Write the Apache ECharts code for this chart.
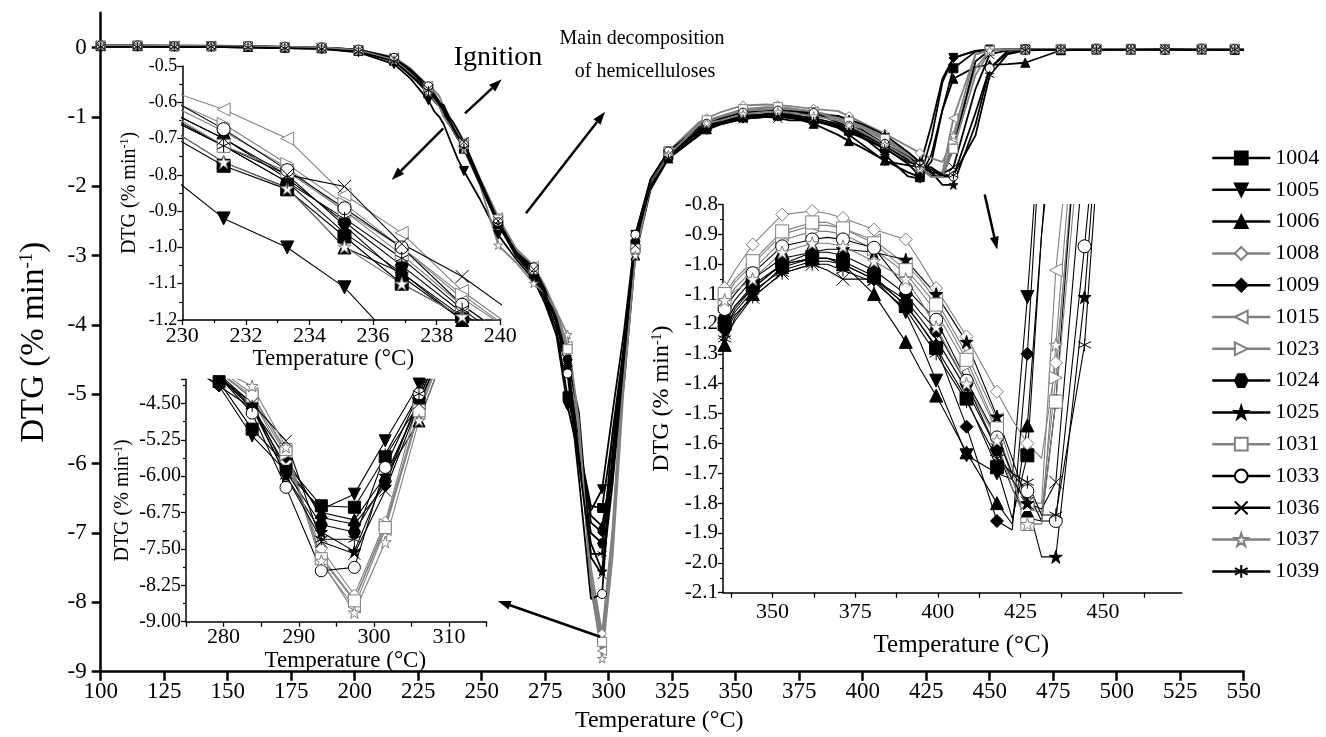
<!DOCTYPE html>
<html><head><meta charset="utf-8">
<script src="https://cdn.jsdelivr.net/npm/echarts@6.0.0/dist/echarts.min.js"></script>
<style>html,body{margin:0;padding:0;background:#fff}#c{width:1326px;height:737px}</style>
</head><body><div id="c"></div>
<script>
// ---------------- DATA ----------------
const SAMPLE_NAMES = ['1004','1005','1006','1008','1009','1015','1023','1024','1025','1031','1033','1036','1037','1039'];

// temperature grid (°C) shared by all samples
const TEMPS = [100,114.5,129,143.5,158,172.5,187,201.5,215.5,222,
  229,231.3,233.3,235.1,236.9,238.8,240.7,
  243,249.5,256.5,263.5,270.5,275,279.4,283.8,288.3,293,297.4,301.5,306,310.5,316.5,323.5,
  335.5,338.6,344,352.9,362,366.6,371.3,380.7,390.3,394.6,399.5,408.7,417.9,422.5,427.1,431.4,435.7,444.4,450,457,464,
  478,492,505.6,519,533.5,546.5,550];

// temperatures carrying a marker in each panel
const MARKS_MAIN = [100,114.5,129,143.5,158,172.5,187,201.5,215.5,229,243,256.5,270.5,283.8,297.4,310.5,323.5,
  338.6,352.9,366.6,380.7,394.6,408.7,422.5,435.7,450,464,478,492,505.6,519,533.5,546.5];
const MARKS_INSET1 = [231.3,233.3,235.1,236.9,238.8];
const MARKS_INSET2 = [279.4,283.8,288.3,293,297.4,301.5,306];
const MARKS_INSET3 = [335.5,344,352.9,362,371.3,380.7,390.3,399.5,408.7,417.9,427.1,435.7,444.4];

// DTG values (% min-1) per sample, one per TEMPS entry
const DTG_1004 = [0.02,0.02,0.02,0.02,0.01,0.00,-0.01,-0.05,-0.19,-0.40,
  -0.66,-0.775,-0.84,-0.97,-1.10,-1.19,-1.30,
  -1.46,-1.98,-2.55,-2.98,-3.25,-3.6,-4.05,-5.03,-5.75,-6.61,-6.64,-5.6,-4.5,-2.9,-2.0,-1.55,
  -1.20,-1.14,-1.07,-1.00,-0.98,-0.98,-0.99,-1.04,-1.14,-1.20,-1.28,-1.45,-1.68,-1.85,-1.64,-0.9,-0.3,-0.06,-0.04,-0.03,-0.03,
  -0.03,-0.02,-0.03,-0.03,-0.02,-0.03,-0.03];
const DTG_1005 = [0.01,0.01,0.01,0.01,0.00,-0.01,-0.02,-0.07,-0.24,-0.45,
  -0.76,-0.92,-1.00,-1.11,-1.28,-1.45,-1.62,
  -1.78,-2.2,-2.7,-3.05,-3.35,-3.7,-4.14,-5.17,-5.9,-6.68,-6.37,-5.27,-4.1,-2.7,-1.9,-1.5,
  -1.22,-1.16,-1.09,-1.02,-0.99,-0.99,-1.00,-1.05,-1.16,-1.26,-1.39,-1.64,-1.70,-1.72,-1.11,-0.45,-0.15,-0.05,-0.03,-0.03,-0.03,
  -0.03,-0.03,-0.02,-0.03,-0.03,-0.02,-0.02];
const DTG_1006 = [0.02,0.02,0.02,0.02,0.01,0.00,-0.01,-0.05,-0.18,-0.37,
  -0.64,-0.765,-0.835,-1.00,-1.07,-1.20,-1.32,
  -1.45,-1.95,-2.5,-2.95,-3.25,-3.55,-3.95,-4.6,-5.8,-6.75,-6.9,-6.0,-4.86,-3.0,-2.05,-1.6,
  -1.27,-1.18,-1.10,-1.01,-0.98,-0.98,-1.00,-1.10,-1.26,-1.35,-1.44,-1.63,-1.80,-1.87,-1.54,-0.9,-0.45,-0.28,-0.25,-0.24,-0.22,
  -0.04,-0.03,-0.03,-0.02,-0.03,-0.03,-0.03];
const DTG_1008 = [0.03,0.03,0.03,0.02,0.02,0.01,0.00,-0.03,-0.15,-0.32,
  -0.58,-0.68,-0.78,-0.90,-1.00,-1.14,-1.25,
  -1.38,-1.9,-2.45,-2.9,-3.15,-3.45,-3.85,-4.4,-5.7,-7.5,-8.45,-6.95,-4.4,-2.8,-1.95,-1.5,
  -1.08,-1.02,-0.934,-0.834,-0.822,-0.83,-0.845,-0.884,-0.917,-0.99,-1.08,-1.242,-1.427,-1.52,-1.60,-1.65,-1.33,-0.3,-0.05,-0.03,-0.03,
  -0.02,-0.02,-0.03,-0.02,-0.02,-0.03,-0.03];
const DTG_1009 = [0.02,0.02,0.02,0.01,0.01,0.00,-0.01,-0.05,-0.19,-0.38,
  -0.62,-0.72,-0.82,-0.96,-1.07,-1.19,-1.31,
  -1.45,-1.98,-2.55,-3.0,-3.3,-3.65,-4.14,-4.6,-5.61,-6.85,-6.99,-6.2,-4.38,-2.85,-2.0,-1.55,
  -1.22,-1.15,-1.08,-1.00,-0.98,-0.98,-1.00,-1.05,-1.135,-1.2,-1.275,-1.544,-1.86,-1.89,-1.3,-0.5,-0.15,-0.05,-0.03,-0.03,-0.03,
  -0.03,-0.03,-0.02,-0.03,-0.03,-0.03,-0.03];
const DTG_1015 = [0.03,0.03,0.03,0.03,0.02,0.01,0.00,-0.03,-0.14,-0.30,
  -0.55,-0.62,-0.70,-0.855,-0.96,-1.12,-1.24,
  -1.36,-1.9,-2.45,-2.9,-3.15,-3.45,-3.8,-4.3,-5.5,-7.8,-8.7,-7.1,-4.7,-2.9,-1.95,-1.5,
  -1.12,-1.06,-1.00,-0.90,-0.87,-0.87,-0.88,-0.92,-1.00,-1.05,-1.12,-1.30,-1.52,-1.68,-1.80,-1.80,-1.02,-0.1,-0.03,-0.03,-0.03,
  -0.02,-0.02,-0.02,-0.03,-0.02,-0.02,-0.02];
const DTG_1023 = [0.03,0.03,0.02,0.02,0.02,0.01,0.00,-0.03,-0.15,-0.31,
  -0.57,-0.66,-0.77,-0.88,-1.00,-1.13,-1.25,
  -1.38,-1.92,-2.48,-2.92,-3.2,-3.5,-3.85,-4.4,-5.55,-7.65,-8.55,-7.0,-4.6,-2.85,-1.95,-1.5,
  -1.14,-1.08,-1.02,-0.92,-0.89,-0.89,-0.90,-0.95,-1.03,-1.09,-1.16,-1.34,-1.56,-1.70,-1.82,-1.83,-1.38,-0.2,-0.04,-0.03,-0.03,
  -0.02,-0.03,-0.02,-0.02,-0.03,-0.02,-0.02];
const DTG_1024 = [0.02,0.02,0.02,0.02,0.01,0.00,-0.01,-0.04,-0.17,-0.36,
  -0.60,-0.70,-0.81,-0.93,-1.05,-1.18,-1.30,
  -1.44,-1.96,-2.52,-2.95,-3.25,-3.55,-3.95,-4.5,-5.9,-7.0,-7.15,-6.1,-4.4,-2.8,-1.98,-1.55,
  -1.18,-1.12,-1.05,-0.98,-0.96,-0.96,-0.97,-1.02,-1.10,-1.16,-1.22,-1.40,-1.62,-1.75,-1.85,-1.86,-1.46,-0.2,-0.04,-0.03,-0.03,
  -0.03,-0.02,-0.03,-0.03,-0.02,-0.03,-0.03];
const DTG_1025 = [0.02,0.02,0.01,0.01,0.01,0.00,-0.01,-0.05,-0.18,-0.37,
  -0.61,-0.72,-0.80,-0.94,-1.08,-1.20,-1.32,
  -1.46,-1.97,-2.52,-2.97,-3.25,-3.55,-3.95,-4.6,-5.99,-7.15,-7.55,-5.99,-4.5,-2.9,-2.0,-1.58,
  -1.20,-1.14,-1.08,-1.00,-0.96,-0.95,-0.95,-0.96,-0.985,-1.04,-1.10,-1.26,-1.51,-1.65,-1.80,-1.98,-1.98,-1.11,-0.3,-0.08,-0.04,
  -0.03,-0.03,-0.02,-0.03,-0.03,-0.03,-0.03];
const DTG_1031 = [0.03,0.03,0.02,0.02,0.02,0.01,0.00,-0.04,-0.16,-0.34,
  -0.60,-0.72,-0.79,-0.90,-1.02,-1.16,-1.27,
  -1.40,-1.92,-2.48,-2.9,-3.2,-3.5,-3.85,-4.35,-5.45,-7.7,-8.57,-7.06,-4.65,-2.9,-1.95,-1.5,
  -1.10,-1.05,-0.99,-0.89,-0.86,-0.86,-0.88,-0.93,-1.02,-1.07,-1.135,-1.32,-1.55,-1.72,-1.87,-1.87,-1.46,-0.4,-0.05,-0.03,-0.03,
  -0.02,-0.02,-0.03,-0.02,-0.02,-0.02,-0.02];
const DTG_1033 = [0.03,0.03,0.02,0.02,0.02,0.01,0.00,-0.03,-0.15,-0.32,
  -0.56,-0.674,-0.787,-0.892,-1.00,-1.158,-1.28,
  -1.40,-1.94,-2.52,-2.95,-3.17,-3.5,-3.95,-4.7,-6.23,-7.95,-7.88,-5.82,-4.3,-2.7,-1.9,-1.5,
  -1.15,-1.10,-1.03,-0.94,-0.917,-0.91,-0.917,-0.945,-1.08,-1.13,-1.186,-1.39,-1.58,-1.70,-1.76,-1.86,-1.86,-0.94,-0.3,-0.05,-0.03,
  -0.03,-0.02,-0.02,-0.03,-0.02,-0.02,-0.02];
const DTG_1036 = [0.02,0.02,0.02,0.02,0.01,0.00,-0.01,-0.04,-0.16,-0.34,
  -0.60,-0.70,-0.80,-0.832,-0.99,-1.08,-1.20,
  -1.36,-1.92,-2.5,-2.95,-3.2,-3.5,-3.9,-4.5,-5.27,-7.35,-7.6,-6.3,-4.5,-2.85,-1.98,-1.55,
  -1.23,-1.17,-1.11,-1.03,-1.00,-1.02,-1.05,-1.05,-1.12,-1.18,-1.25,-1.42,-1.62,-1.72,-1.80,-1.82,-1.73,-0.6,-0.1,-0.04,-0.03,
  -0.03,-0.03,-0.03,-0.02,-0.03,-0.03,-0.03];
const DTG_1037 = [0.03,0.03,0.03,0.02,0.02,0.01,0.00,-0.04,-0.18,-0.38,
  -0.64,-0.765,-0.837,-0.998,-1.10,-1.19,-1.31,
  -1.47,-2.0,-2.85,-3.1,-3.4,-3.55,-3.8,-4.14,-5.4,-7.74,-8.81,-7.36,-4.85,-3.0,-2.0,-1.55,
  -1.12,-1.09,-1.05,-0.96,-0.93,-0.93,-0.94,-0.99,-1.05,-1.12,-1.21,-1.40,-1.59,-1.75,-1.87,-1.87,-1.27,-0.1,-0.04,-0.03,-0.03,
  -0.02,-0.02,-0.02,-0.03,-0.02,-0.02,-0.02];
const DTG_1039 = [0.01,0.01,0.01,0.01,0.00,-0.01,-0.02,-0.06,-0.20,-0.40,
  -0.62,-0.72,-0.82,-0.92,-1.03,-1.17,-1.29,
  -1.45,-1.98,-2.55,-3.0,-3.3,-3.55,-3.95,-4.55,-6.0,-7.30,-7.30,-5.55,-4.3,-2.8,-2.0,-1.6,
  -1.25,-1.19,-1.11,-1.03,-1.00,-1.00,-1.02,-1.06,-1.15,-1.22,-1.30,-1.46,-1.65,-1.70,-1.73,-1.84,-1.84,-1.27,-0.4,-0.1,-0.04,
  -0.03,-0.03,-0.03,-0.03,-0.03,-0.03,-0.03];

const SAMPLE_VALUES = [DTG_1004,DTG_1005,DTG_1006,DTG_1008,DTG_1009,DTG_1015,DTG_1023,DTG_1024,DTG_1025,DTG_1031,DTG_1033,DTG_1036,DTG_1037,DTG_1039];

// ---------------- STYLE ----------------
const FONT = 'Liberation Serif';
const BLACK = '#000000', GRAY = '#808080';
const SYM = {
  square: 'rect',
  down: 'path://M0,0L10,0L5,9Z',
  up: 'triangle',
  diamond: 'diamond',
  left: 'path://M0,5L9,0L9,10Z',
  right: 'path://M9,5L0,0L0,10Z',
  hex: 'path://M2.5,0L7.5,0L10,5L7.5,10L2.5,10L0,5Z',
  star: 'path://M5,0L6.18,3.62L10,3.62L6.91,5.86L8.09,9.5L5,7.26L1.91,9.5L3.09,5.86L0,3.62L3.82,3.62Z',
  cross: 'path://M0,0L10,10M10,0L0,10',
  aster: 'path://M5,0L5,10M0.67,2.5L9.33,7.5M9.33,2.5L0.67,7.5'
};
const CLEAR = 'rgba(255,255,255,0)';
const STYLES = [
  {color:BLACK, symbol:SYM.square,  fill:BLACK},
  {color:BLACK, symbol:SYM.down,    fill:BLACK},
  {color:BLACK, symbol:SYM.up,      fill:BLACK},
  {color:GRAY,  symbol:SYM.diamond, fill:'#fff'},
  {color:BLACK, symbol:SYM.diamond, fill:BLACK},
  {color:GRAY,  symbol:SYM.left,    fill:'#fff'},
  {color:GRAY,  symbol:SYM.right,   fill:'#fff'},
  {color:BLACK, symbol:SYM.hex,     fill:BLACK},
  {color:BLACK, symbol:SYM.star,    fill:BLACK},
  {color:GRAY,  symbol:SYM.square,  fill:'#fff'},
  {color:BLACK, symbol:'circle',    fill:'#fff'},
  {color:BLACK, symbol:SYM.cross,   fill:CLEAR},
  {color:GRAY,  symbol:SYM.star,    fill:'#fff'},
  {color:BLACK, symbol:SYM.aster,   fill:CLEAR}
];

const PANELS = [
  {marks:MARKS_MAIN,   symSize:9,  lw:1.8},
  {marks:MARKS_INSET1, symSize:13, lw:1.1},
  {marks:MARKS_INSET2, symSize:12, lw:1.1},
  {marks:MARKS_INSET3, symSize:13, lw:1.1}
];

function buildData(vals, marks) {
  return TEMPS.map((t, i) => marks.indexOf(t) >= 0 ? [t, vals[i]] : {value:[t, vals[i]], symbol:'none'});
}

const series = [];
PANELS.forEach((p, gi) => {
  SAMPLE_NAMES.forEach((name, si) => {
    const st = STYLES[si];
    series.push({
      type:'line', name, xAxisIndex:gi, yAxisIndex:gi,
      data: buildData(SAMPLE_VALUES[si], p.marks),
      symbol: st.symbol, symbolSize: p.symSize, showSymbol:true, showAllSymbol:true,
      lineStyle:{color:st.color, width:p.lw},
      itemStyle:{color:st.fill, borderColor:st.color, borderWidth:1},
      emphasis:{disabled:true}, silent:true, clip:true, animation:false
    });
  });
});

function axisBase(fs) {
  return {
    axisLine:{onZero:false, lineStyle:{color:BLACK, width:1.5}},
    axisTick:{length:5, lineStyle:{color:BLACK, width:1.3}},
    minorTick:{show:false},
    splitLine:{show:false},
    axisLabel:{fontFamily:FONT, fontSize:fs, color:BLACK, margin:5},
    nameTextStyle:{fontFamily:FONT, color:BLACK}
  };
}
function yName(fs, sup) {
  return {
    name:'{a|DTG (% min}{s|-1}{a|)}', nameLocation:'middle',
    nameTextStyle:{fontFamily:FONT, color:BLACK,
      rich:{a:{fontFamily:FONT, fontSize:fs, color:BLACK}, s:{fontFamily:FONT, fontSize:sup, color:BLACK, verticalAlign:'top'}}}
  };
}
function merge(a, b) {
  const o = Object.assign({}, a);
  for (const k in b) {
    if (b[k] && typeof b[k] === 'object' && !Array.isArray(b[k]) && o[k] && typeof o[k] === 'object') o[k] = merge(o[k], b[k]);
    else o[k] = b[k];
  }
  return o;
}

const MAIN_Y_TICKS = [-9,-8,-7,-6,-5,-4,-3,-2,-1,0];
const IN3_X_LABELS = [350,375,400,425,450];
const IN3_X_TICKS = [337.5,350,362.5,375,387.5,400,412.5,425,437.5,450,462.5];

const xAxes = [
  merge(axisBase(23), {type:'value', gridIndex:0, min:100, max:550, interval:25,
    axisLine:{lineStyle:{width:2.5}}, axisTick:{length:9, lineStyle:{width:2.5}},
    axisLabel:{margin:9},
    name:'Temperature (°C)', nameLocation:'middle', nameGap:28, nameTextStyle:{fontSize:24, padding:[0,26,0,0]}}),
  merge(axisBase(22), {type:'value', gridIndex:1, min:230, max:240, interval:2,
    minorTick:{show:true, splitNumber:2, length:3, lineStyle:{color:BLACK, width:1.2}},
    name:'Temperature (°C)', nameLocation:'middle', nameGap:27, nameTextStyle:{fontSize:23, padding:[0,16,0,0]}}),
  merge(axisBase(22), {type:'value', gridIndex:2, min:275, max:315, interval:5,
    axisLabel:{formatter:v => (v % 10 === 0 ? String(v) : '')},
    name:'Temperature (°C)', nameLocation:'middle', nameGap:13, nameTextStyle:{fontSize:23, padding:[0,0,0,18]}}),
  merge(axisBase(22), {type:'value', gridIndex:3, min:335, max:473.8,
    axisTick:{customValues:IN3_X_TICKS},
    axisLabel:{customValues:IN3_X_LABELS, margin:9},
    name:'Temperature (°C)', nameLocation:'middle', nameGap:40, nameTextStyle:{fontSize:25, padding:[0,0,0,18]}})
];
const yAxes = [
  merge(merge(axisBase(23), yName(33, 19)), {type:'value', gridIndex:0, min:-9, max:0.5, interval:1,
    axisLine:{lineStyle:{width:2.5}}, axisTick:{length:9, lineStyle:{width:2.5}, customValues:MAIN_Y_TICKS},
    axisLabel:{margin:14, customValues:MAIN_Y_TICKS, formatter:v => (v > 0 ? '' : String(v))},
    nameGap:50}),
  merge(merge(axisBase(18), yName(20, 12)), {type:'value', gridIndex:1, min:-1.2, max:-0.5, interval:0.1,
    minorTick:{show:true, splitNumber:2, length:3, lineStyle:{color:BLACK, width:1.2}},
    axisLabel:{formatter:v => v.toFixed(1)}, nameGap:43}),
  merge(merge(axisBase(20), yName(20, 12)), {type:'value', gridIndex:2, min:-9, max:-4, interval:0.75,
    minorTick:{show:true, splitNumber:2, length:3, lineStyle:{color:BLACK, width:1.2}},
    axisLabel:{formatter:v => (v > -4.2 ? '' : v.toFixed(2))}, nameGap:53}),
  merge(merge(axisBase(21), yName(24, 14)), {type:'value', gridIndex:3, min:-2.1, max:-0.8, interval:0.1,
    minorTick:{show:true, splitNumber:2, length:3, lineStyle:{color:BLACK, width:1.2}},
    axisLabel:{formatter:v => v.toFixed(1)}, nameGap:49})
];

// annotation arrows (pixel positions of the call-out arrows)
function arrowEls(x1, y1, x2, y2) {
  const dx = x2 - x1, dy = y2 - y1, L = Math.hypot(dx, dy), ux = dx / L, uy = dy / L;
  const hl = 13, hw = 4.5, bx = x2 - ux * hl, by = y2 - uy * hl;
  return [
    {type:'line', z:100, shape:{x1, y1, x2:bx, y2:by}, style:{stroke:BLACK, lineWidth:2.5}},
    {type:'polygon', z:100, shape:{points:[[x2, y2], [bx - uy * hw, by + ux * hw], [bx + uy * hw, by - ux * hw]]}, style:{fill:BLACK}}
  ];
}
function textEl(x, y, text, fs) {
  return {type:'text', z:100, x, y, style:{text, font:fs + 'px "' + FONT + '"', fill:BLACK,
    align:'center', verticalAlign:'middle', textAlign:'center', textVerticalAlign:'middle'}};
}
const graphics = [].concat(
  arrowEls(443.3, 128.3, 391.7, 180),
  arrowEls(465, 113.3, 501.7, 79.3),
  arrowEls(526, 213.3, 605, 111.7),
  arrowEls(984.7, 194.5, 997.2, 249.6),
  arrowEls(600, 636.7, 497.8, 601),
  [textEl(498, 58, 'Ignition', 28), textEl(642, 39, 'Main decomposition', 20), textEl(645, 72, 'of hemicelluloses', 20)]
);

const option = {
  animation:false,
  backgroundColor:'#ffffff',
  grid:[
    {left:100.7, top:12.8, width:1143, height:658.9, outerBoundsMode:'none', containLabel:false},
    {left:182.3, top:66, width:318, height:254, outerBoundsMode:'none', containLabel:false},
    {left:186, top:379.2, width:300.7, height:242.5, outerBoundsMode:'none', containLabel:false},
    {left:723, top:204.5, width:458.7, height:388.2, outerBoundsMode:'none', containLabel:false}
  ],
  xAxis:xAxes,
  yAxis:yAxes,
  legend:{
    orient:'vertical', left:1206, top:142, itemWidth:58, itemHeight:16, itemGap:9.8,
    selectedMode:false, data:SAMPLE_NAMES,
    lineStyle:{width:2.5},
    textStyle:{fontFamily:FONT, fontSize:22, color:BLACK}
  },
  graphic:graphics,
  series
};
const chart = echarts.init(document.getElementById('c'));
chart.setOption(option);
</script>
</body></html>
